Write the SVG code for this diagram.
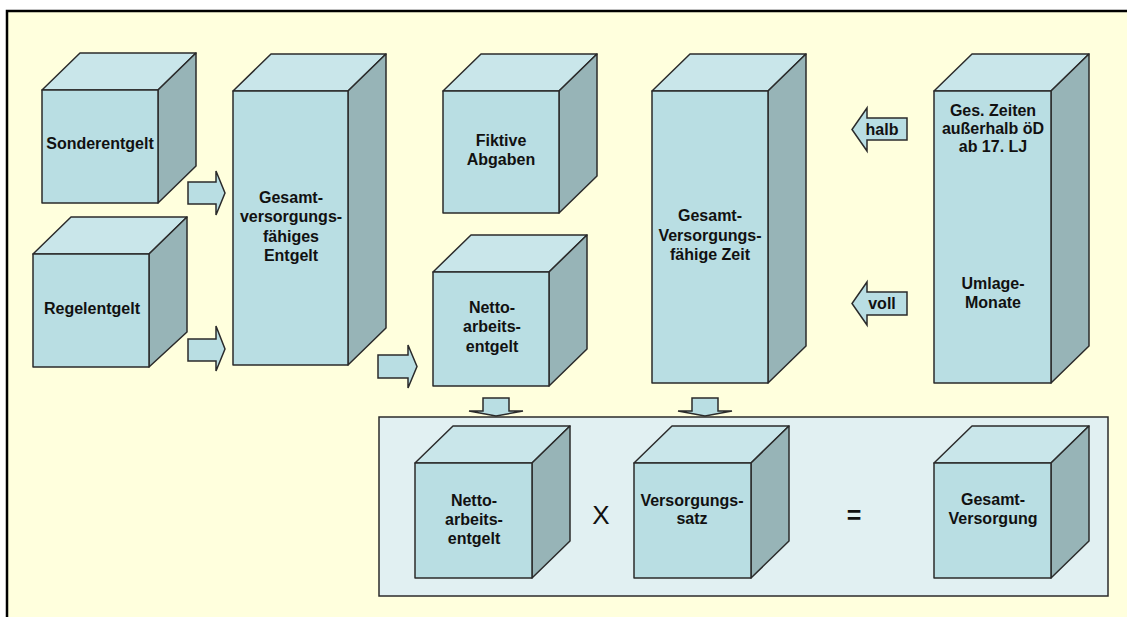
<svg xmlns="http://www.w3.org/2000/svg" width="1127" height="617" viewBox="0 0 1127 617">
  <style>
    .front { fill: #B9DEE3; stroke: #2B2B2B; stroke-width: 1.5; stroke-linejoin: round; }
    .top { fill: #C9E6EA; stroke: #2B2B2B; stroke-width: 1.5; stroke-linejoin: round; }
    .side { fill: #97B4B7; stroke: #2B2B2B; stroke-width: 1.5; stroke-linejoin: round; }
    .arrow { fill: #B9DEE3; stroke: #2B2B2B; stroke-width: 1.5; stroke-linejoin: miter; }
    .label { font-family: "Liberation Sans", Arial, sans-serif; font-size: 16px; font-weight: bold; fill: #111; text-anchor: middle; }
    .op { font-family: "Liberation Sans", Arial, sans-serif; fill: #111; text-anchor: middle; }
  </style>

  <!-- page background and frame -->
  <rect x="0" y="0" width="1127" height="617" fill="#FFFFFF"/>
  <rect x="7" y="11" width="1132" height="620" fill="#FFFFDD" stroke="#000" stroke-width="2.5"/>

  <!-- result panel -->
  <rect id="panel" x="379" y="417" width="729" height="179" fill="#E1F0F2" stroke="#2B2B2B" stroke-width="1.5"/>

  <g id="sonderentgelt">
    <polygon class="top" points="42,90 80,53 196,53 158,90"/>
    <polygon class="side" points="158,90 196,53 196,166 158,203"/>
    <rect class="front" x="42" y="90" width="116" height="113"/>
    <text class="label" x="100" y="149">Sonderentgelt</text>
  </g>

  <g id="regelentgelt">
    <polygon class="top" points="33,254 71,217 187,217 149,254"/>
    <polygon class="side" points="149,254 187,217 187,332 149,367"/>
    <rect class="front" x="33" y="254" width="116" height="113"/>
    <text class="label" x="92" y="314">Regelentgelt</text>
  </g>

  <g id="gesamtentgelt">
    <polygon class="top" points="233,91 271,54 386,54 348,91"/>
    <polygon class="side" points="348,91 386,54 386,328 348,365"/>
    <rect class="front" x="233" y="91" width="115" height="274"/>
    <text class="label" x="291" y="203">Gesamt-</text>
    <text class="label" x="291" y="222">versorgungs-</text>
    <text class="label" x="291" y="242">fähiges</text>
    <text class="label" x="291" y="261">Entgelt</text>
  </g>

  <g id="fiktive-abgaben">
    <polygon class="top" points="443,91 481,54 597,54 559,91"/>
    <polygon class="side" points="559,91 597,54 597,176 559,213"/>
    <rect class="front" x="443" y="91" width="116" height="122"/>
    <text class="label" x="501" y="146">Fiktive</text>
    <text class="label" x="501" y="165">Abgaben</text>
  </g>

  <g id="nettoarbeitsentgelt">
    <polygon class="top" points="433,272 471,235 587,235 549,272"/>
    <polygon class="side" points="549,272 587,235 587,349 549,386"/>
    <rect class="front" x="433" y="272" width="116" height="114"/>
    <text class="label" x="492" y="313">Netto-</text>
    <text class="label" x="492" y="332">arbeits-</text>
    <text class="label" x="492" y="352">entgelt</text>
  </g>

  <g id="gesamtzeit">
    <polygon class="top" points="652,91 690,54 806,54 768,91"/>
    <polygon class="side" points="768,91 806,54 806,346 768,383"/>
    <rect class="front" x="652" y="91" width="116" height="292"/>
    <text class="label" x="710" y="221">Gesamt-</text>
    <text class="label" x="710" y="241">Versorgungs-</text>
    <text class="label" x="710" y="260">fähige Zeit</text>
  </g>

  <g id="zeiten">
    <polygon class="top" points="934,91 972,54 1089,54 1051,91"/>
    <polygon class="side" points="1051,91 1089,54 1089,346 1051,383"/>
    <rect class="front" x="934" y="91" width="117" height="292"/>
    <text class="label" x="993" y="116">Ges. Zeiten</text>
    <text class="label" x="993" y="134">außerhalb öD</text>
    <text class="label" x="993" y="152">ab 17. LJ</text>
    <text class="label" x="993" y="289">Umlage-</text>
    <text class="label" x="993" y="308">Monate</text>
  </g>

  <g id="netto-result">
    <polygon class="top" points="415,463 453,426 570,426 532,463"/>
    <polygon class="side" points="532,463 570,426 570,541 532,578"/>
    <rect class="front" x="415" y="463" width="117" height="115"/>
    <text class="label" x="474" y="506">Netto-</text>
    <text class="label" x="474" y="525">arbeits-</text>
    <text class="label" x="474" y="544">entgelt</text>
  </g>

  <g id="versorgungssatz">
    <polygon class="top" points="634,463 672,426 789,426 751,463"/>
    <polygon class="side" points="751,463 789,426 789,541 751,578"/>
    <rect class="front" x="634" y="463" width="117" height="115"/>
    <text class="label" x="692" y="506">Versorgungs-</text>
    <text class="label" x="692" y="524">satz</text>
  </g>

  <g id="gesamtversorgung">
    <polygon class="top" points="934,463 972,426 1089,426 1051,463"/>
    <polygon class="side" points="1051,463 1089,426 1089,541 1051,578"/>
    <rect class="front" x="934" y="463" width="117" height="115"/>
    <text class="label" x="993" y="505">Gesamt-</text>
    <text class="label" x="993" y="524">Versorgung</text>
  </g>

  <!-- operators -->
  <text class="op" x="601" y="524" font-size="26">X</text>
  <text class="op" x="854" y="524" font-size="25" font-weight="bold">=</text>

  <g id="connectors">
    <polygon class="arrow" points="188,182 216,182 216,171 225,193 216,215 216,204 188,204"/>
    <polygon class="arrow" points="188,339 216,339 216,326 225,349 216,371 216,361 188,361"/>
    <polygon class="arrow" points="378,355 408,355 408,345 417,366.5 408,388 408,378 378,378"/>
    <polygon class="arrow" points="907,118 867,118 867,108 852,129.5 867,151 867,140 907,140"/>
    <text class="label" x="882" y="135">halb</text>
    <polygon class="arrow" points="907,292 867,292 867,282 852,303.5 867,325 867,315 907,315"/>
    <text class="label" x="882" y="309">voll</text>
    <polygon class="arrow" points="483,398 509,398 509,411 523,411 496,416 469,411 483,411"/>
    <polygon class="arrow" points="692,398 718,398 718,411 732,411 705,416 678,411 692,411"/>
  </g>
</svg>
